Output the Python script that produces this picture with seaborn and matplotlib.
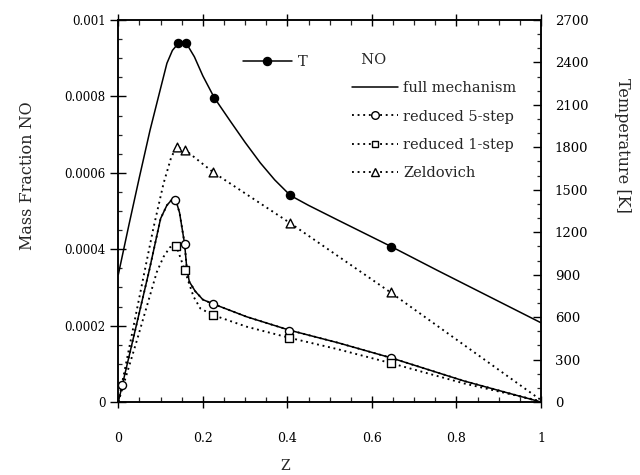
import matplotlib
matplotlib.use("Agg")
import matplotlib.pyplot as plt
import seaborn as sns
import pandas as pd
from matplotlib.lines import Line2D
from matplotlib.ticker import MultipleLocator, FixedLocator

# ---------------- data ----------------
# Temperature curve (right axis, K)
z_T = [0.0, 0.025, 0.05, 0.075, 0.099, 0.115, 0.128, 0.142, 0.15, 0.161, 0.18, 0.2,
       0.227, 0.265, 0.30, 0.336, 0.37, 0.407, 0.45, 0.52, 0.646, 0.755, 1.0]
T_line = [900, 1250, 1590, 1920, 2205, 2394, 2485, 2535, 2545, 2535, 2440, 2305,
          2151, 1985, 1835, 1690, 1570, 1460, 1390, 1285, 1098, 930, 560]
z_T_mark = [0.142, 0.161, 0.227, 0.407, 0.646]
T_mark = [2535, 2535, 2151, 1460, 1098]

# NO, full mechanism (solid)
z_full = [0.0, 0.01, 0.04, 0.0735, 0.1, 0.115, 0.127, 0.135, 0.145, 0.157, 0.162,
          0.168, 0.182, 0.2, 0.224, 0.304, 0.405, 0.52, 0.644, 0.818, 1.0]
no_full = [0.0, 0.47e-4, 1.88e-4, 3.46e-4, 4.8e-4, 5.15e-4, 5.3e-4, 5.33e-4, 4.95e-4,
           4.13e-4, 3.5e-4, 3.15e-4, 2.9e-4, 2.68e-4, 2.57e-4, 2.23e-4, 1.88e-4,
           1.55e-4, 1.16e-4, 0.55e-4, 0.0]

# NO, reduced 5-step (coincides with the full mechanism)
z_5step = list(z_full)
no_5step = list(no_full)
z_5step_mark = [0.008, 0.135, 0.157, 0.224, 0.405, 0.644]
no_5step_mark = [0.44e-4, 5.29e-4, 4.13e-4, 2.57e-4, 1.87e-4, 1.16e-4]

# NO, reduced 1-step
z_1step = [0.0, 0.045, 0.091, 0.107, 0.122, 0.137, 0.157, 0.166, 0.178, 0.194, 0.223,
           0.304, 0.405, 0.52, 0.644, 0.82, 1.0]
no_1step = [0.0, 1.65e-4, 3.4e-4, 3.8e-4, 4.05e-4, 4.09e-4, 3.46e-4, 3.15e-4, 2.76e-4,
            2.45e-4, 2.28e-4, 1.97e-4, 1.68e-4, 1.38e-4, 1.02e-4, 0.48e-4, 0.02e-4]
z_1step_mark = [0.137, 0.157, 0.223, 0.405, 0.644]
no_1step_mark = [4.09e-4, 3.46e-4, 2.28e-4, 1.68e-4, 1.02e-4]

# NO, Zeldovich
z_zel = [0.0, 0.03, 0.06, 0.083, 0.107, 0.125, 0.138, 0.158, 0.225, 0.407, 0.644, 1.0]
no_zel = [0.0, 1.65e-4, 3.3e-4, 4.55e-4, 5.72e-4, 6.4e-4, 6.68e-4, 6.6e-4, 6.01e-4,
          4.68e-4, 2.87e-4, 0.05e-4]
z_zel_mark = [0.138, 0.158, 0.225, 0.407, 0.644]
no_zel_mark = [6.68e-4, 6.6e-4, 6.01e-4, 4.68e-4, 2.87e-4]

x_ticks = [0, 0.2, 0.4, 0.6, 0.8, 1]
x_tick_labels = ["0", "0.2", "0.4", "0.6", "0.8", "1"]
y_ticks = [0, 0.0002, 0.0004, 0.0006, 0.0008, 0.001]
y_tick_labels = ["0", "0.0002", "0.0004", "0.0006", "0.0008", "0.001"]
T_ticks = [0, 300, 600, 900, 1200, 1500, 1800, 2100, 2400, 2700]
T_tick_labels = [str(t) for t in T_ticks]

# ---------------- style ----------------
sns.set_style("ticks")
plt.rcParams["font.family"] = ["DejaVu Serif", "DejaVu Sans"]
plt.rcParams["axes.linewidth"] = 1.1
plt.rcParams["axes.edgecolor"] = "black"

W, H = 640, 475
fig = plt.figure(figsize=(6.4, 4.75), dpi=100)
x0, x1, y0, y1 = 118.3, 541.0, 402.0, 20.0
ax = fig.add_axes([x0 / W, 1 - y0 / H, (x1 - x0) / W, (y0 - y1) / H])
ax2 = ax.twinx()

K = "black"
LW = 1.1
DLW = 1.35
DOT = (0, (1.0, 2.0))

def line(axis, x, y, ls, lw):
    df = pd.DataFrame({"z": x, "v": y})
    sns.lineplot(data=df, x="z", y="v", ax=axis, color=K, linewidth=lw,
                 linestyle=ls, estimator=None, sort=False, legend=False)

def marks(axis, x, y, marker, s, fc):
    df = pd.DataFrame({"z": x, "v": y})
    sns.scatterplot(data=df, x="z", y="v", ax=axis, marker=marker, s=s,
                    facecolor=fc, edgecolor=K, linewidth=1.0, zorder=4, legend=False)

line(ax, z_full, no_full, "-", LW)
line(ax, z_5step, no_5step, DOT, DLW)
line(ax, z_1step, no_1step, DOT, DLW)
line(ax, z_zel, no_zel, DOT, DLW)
marks(ax, z_5step_mark, no_5step_mark, "o", 34, "white")
marks(ax, z_1step_mark, no_1step_mark, "s", 26, "white")
marks(ax, z_zel_mark, no_zel_mark, "^", 40, "white")

line(ax2, z_T, T_line, "-", LW)
marks(ax2, z_T_mark, T_mark, "o", 34, K)

# ---------------- axes ----------------
ax.set_xlim(0, 1)
ax.set_ylim(0, 0.001)
ax2.set_ylim(0, 2700)

ax.xaxis.set_major_locator(FixedLocator(x_ticks))
ax.set_xticklabels(x_tick_labels)
ax.xaxis.set_minor_locator(MultipleLocator(0.05))
ax.yaxis.set_major_locator(FixedLocator(y_ticks))
ax.set_yticklabels(y_tick_labels)
ax.yaxis.set_minor_locator(MultipleLocator(0.00005))
ax2.yaxis.set_major_locator(FixedLocator(T_ticks))
ax2.set_yticklabels(T_tick_labels)
ax2.yaxis.set_minor_locator(MultipleLocator(100))

ax.tick_params(axis="x", which="major", top=True, bottom=True, direction="inout",
               length=9, width=1.0, pad=17, labelsize=9, colors=K)
ax.tick_params(axis="x", which="minor", top=True, bottom=True, direction="in",
               length=3.5, width=0.9)
ax.tick_params(axis="y", which="major", left=True, right=False, direction="inout",
               length=12, width=1.0, pad=3, labelsize=8.5, colors=K)
ax.tick_params(axis="y", which="minor", left=True, right=False, direction="in",
               length=3, width=0.9)
ax2.tick_params(axis="y", which="major", right=True, direction="in",
                length=6, width=1.0, pad=10, labelsize=9.5, colors=K)
ax2.tick_params(axis="y", which="minor", right=True, direction="in",
                length=3, width=0.9)

for a in (ax, ax2):
    for sp in a.spines.values():
        sp.set_visible(True)
        sp.set_color(K)
        sp.set_linewidth(1.1)

ax.set_xlabel("Z", fontsize=10, va="center", ha="center")
ax.xaxis.set_label_coords((285 - x0) / (x1 - x0), (y0 - 466) / (y0 - y1))
ax.set_ylabel("Mass Fraction NO", fontsize=11.5, va="center", ha="center")
ax.yaxis.set_label_coords((28 - x0) / (x1 - x0), (y0 - 176) / (y0 - y1))
ax2.set_ylabel("Temperature [K]", fontsize=11.5, rotation=-90, va="center", ha="center")
ax2.yaxis.set_label_coords((622 - x0) / (x1 - x0), (y0 - 145) / (y0 - y1))

# ---------------- legends ----------------
FS = 10.5
h_T = Line2D([], [], color=K, lw=LW, marker="o", ms=5.8, mfc=K, mec=K)
legT = ax2.legend([h_T], ["T"], loc="center left", frameon=False, fontsize=FS,
                  bbox_to_anchor=(243 / W, 1 - 62 / H), bbox_transform=fig.transFigure,
                  borderpad=0, borderaxespad=0, handlelength=3.35, handletextpad=0.4,
                  numpoints=1)
ax2.add_artist(legT)

h_full = Line2D([], [], color=K, lw=LW, linestyle="-")
h_5 = Line2D([], [], color=K, lw=DLW, linestyle=DOT, marker="o", ms=5.5, mfc="white", mec=K, mew=1.0)
h_1 = Line2D([], [], color=K, lw=DLW, linestyle=DOT, marker="s", ms=5.0, mfc="white", mec=K, mew=1.0)
h_z = Line2D([], [], color=K, lw=DLW, linestyle=DOT, marker="^", ms=5.5, mfc="white", mec=K, mew=1.0)
legNO = ax2.legend([h_full, h_5, h_1, h_z],
                   ["full mechanism", "reduced 5-step", "reduced 1-step", "Zeldovich"],
                   title="  NO", title_fontsize=FS, alignment="left",
                   loc="upper left", frameon=False, fontsize=FS,
                   bbox_to_anchor=(352 / W, 1 - 53 / H), bbox_transform=fig.transFigure,
                   borderpad=0, borderaxespad=0, handlelength=3.15, handletextpad=0.35,
                   labelspacing=0.98, numpoints=1)

fig.savefig("out.png", dpi=100)
